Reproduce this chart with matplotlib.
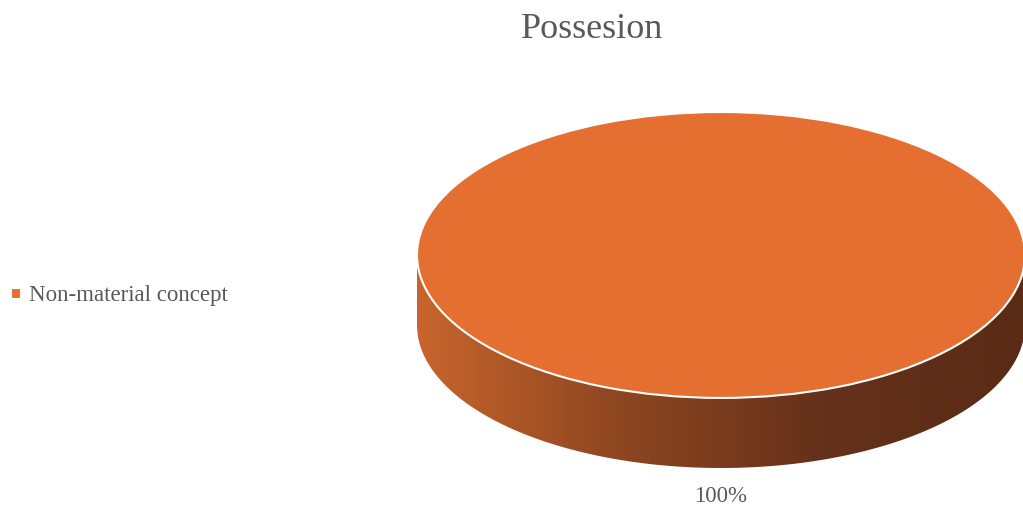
import numpy as np
import matplotlib
matplotlib.use("Agg")
from matplotlib import pyplot as plt
from matplotlib.colors import LinearSegmentedColormap
from matplotlib.patches import Polygon

# data
categories = ["Non-material concept"]
values = [100]
title = "Possesion"

top_color = "#E46F30"
side_colors = ["#C8652C", "#8D4620", "#65311A", "#5A2B15"]
text_color = "#595959"
plt.rcParams['font.family'] = ['Liberation Serif', 'DejaVu Serif']

fig = plt.figure(figsize=(10.23, 5.07), dpi=100)

# pie box in pixels: ellipse 417..1025 wide, top 112, side bottom 468
W, H = 1023, 507
depth = 0.49
ax = fig.add_axes([417 / W, 1 - 468 / H, 608 / W, 356 / H])

# side of the disc, built from the wedge angles
total = sum(values)
start = 90
side_cmap = LinearSegmentedColormap.from_list("side", side_colors)
for v in values:
    t1 = np.deg2rad(start)
    t2 = np.deg2rad(start + 360 * v / total)
    t = np.linspace(t1, t2, 400)
    t = t[np.sin(t) <= 0] if np.any(np.sin(t) <= 0) else t
    xs = np.cos(t)
    ys = np.sin(t)
    pts = np.vstack([np.column_stack([xs, ys]),
                     np.column_stack([xs[::-1], ys[::-1] - depth])])
    poly = Polygon(pts, closed=True, facecolor="none", edgecolor="none")
    ax.add_patch(poly)
    grad = np.linspace(0, 1, 256).reshape(1, -1)
    im = ax.imshow(grad, cmap=side_cmap, aspect="auto",
                   extent=[-1, 1, -1 - depth, 0], zorder=1)
    im.set_clip_path(poly)
    start += 360 * v / total

wedges, texts, autotexts = ax.pie(values, colors=[top_color], startangle=90,
                                  radius=1, center=(0, 0),
                                  wedgeprops=dict(edgecolor="white", linewidth=1.5, zorder=2),
                                  autopct=lambda p: f"{p:.0f}%", pctdistance=1.69,
                                  textprops=dict(color=text_color, fontsize=16.5))
for w in wedges:
    w.set_zorder(2)
for tx in autotexts:
    tx.set_zorder(3)

ax.set_aspect("auto")
ax.set_xlim(-1, 1)
ax.set_ylim(-1 - depth, 1)
ax.axis("off")

fig.text(592 / W, 1 - 29 / H, title, ha="center", va="center",
         fontsize=26, color=text_color)

fig.legend(wedges, categories, loc="center left", bbox_to_anchor=(0.0, 1 - 296 / H),
           frameon=False, handlelength=0.4, handleheight=0.4, handletextpad=0.35,
           borderaxespad=0.1, prop=dict(size=16.5), labelcolor=text_color)

plt.savefig("out.png", dpi=100)
